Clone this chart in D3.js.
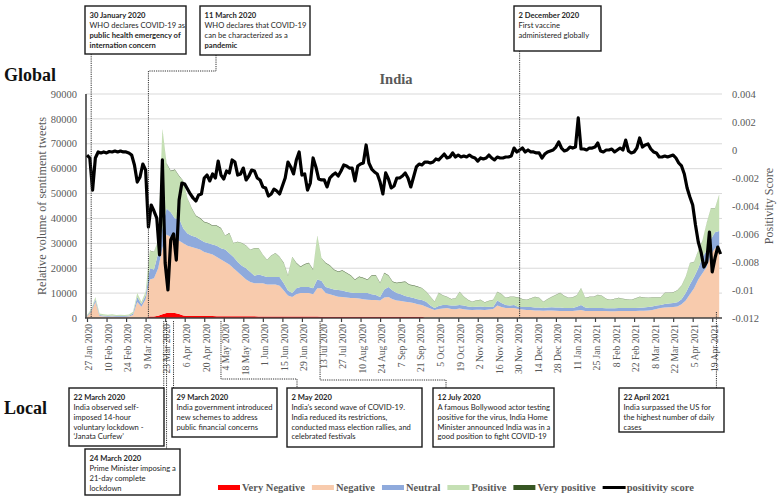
<!DOCTYPE html>
<html><head><meta charset="utf-8">
<script src="https://cdn.jsdelivr.net/npm/d3@7"></script>
<style>body{margin:0;background:#fff}svg{display:block}</style>
</head><body>
<svg id="chart" width="778" height="499"></svg>
<script>
// ---------------- DATA ----------------
// Stacked sentiment volumes (thousands of tweets), one value every 3 days from 27 Jan 2020
const areaStartDate = "2020-01-27";
const areaStepDays = 3;
const veryNegative = [
0,0,0,0,0,0,0,0,0,0,
0,0,0,0,0,0.6,0.6,0.9,1.5,2.0,
2.1,2.0,1.6,1.0,0.8,0.8,0.8,0.8,0.8,0.8,
0.8,0.7,0.7,0.7,0.7,0.7,0.7,0.7,0.7,0.7,
0.7,0.6,0.6,0.6,0.6,0.6,0.6,0.6,0.6,0.6,
0.6,0.6,0.6,0.6,0.6,0.6,0.5,0.5,0.5,0.5,
0.5,0.5,0.5,0.5,0.5,0.5,0.5,0.5,0.5,0.5,
0.5,0.5,0.5,0.5,0.5,0.5,0.5,0.5,0.5,0.5,
0.5,0,0,0,0,0,0,0,0,0,
0,0,0,0,0,0,0,0,0,0,
0,0,0,0,0,0,0,0,0,0,
0,0,0,0,0,0,0,0,0,0,
0,0,0,0,0,0,0,0,0,0,
0,0,0,0,0,0,0,0,0,0,
0,0,0,0,0,0,0,0,0,0,
0,0];
const negative = [
0.5,2.5,6.4,0.8,0.6,0.5,0.6,0.5,0.5,0.5,
0.6,1.2,6.4,4.5,7.5,14.9,15.4,19.1,26.5,31.5,
30.4,31,29.4,29,28.2,27.7,27.2,26.7,25.7,25.2,
24.7,23.8,22.8,21.8,20.8,19.3,17.8,16.3,14.8,13.8,
13.3,13.4,13.4,12.9,12.9,12.9,12.4,10.4,8.4,7.8,
8.9,9.4,9.4,9.4,8.9,11.4,11.5,9.5,9.0,8.5,
8.0,7.9,7.7,7.5,7.5,7.3,7.0,6.8,6.7,6.7,
6.5,7.7,7.9,7.0,6.5,6.3,6.0,5.8,5.5,5.0,
4.7,4.5,3.8,3.2,3.6,3.8,4.0,3.6,3.5,3.8,
3.5,3.3,3.2,3.3,3.3,3.2,3.4,3.6,5.0,4.4,
4.0,4.0,4.0,3.6,3.4,3.2,3.2,3.0,3.0,2.9,
3.0,3.0,2.9,2.8,2.8,2.8,2.8,3.0,3.2,2.8,
2.8,2.8,2.8,2.8,2.8,2.7,2.7,2.8,2.8,2.8,
2.8,2.8,2.9,2.9,3.0,3.2,3.6,4.0,4.2,4.3,
4.4,4.6,5.5,7.0,9.5,12.0,15.5,18.0,20.5,25.5,
28.0,29.0];
const neutral = [
0.3,0.5,1.0,0.4,0.3,0.3,0.3,0.3,0.3,0.3,
0.3,0.6,2.0,1.0,1.5,4.5,3.5,6.0,8.0,10.5,
10.0,7.0,9.0,6.0,5.0,4.5,4.5,4.0,4.0,4.0,
4.0,4.5,4.5,5.0,4.5,4.5,4.0,4.0,4.5,4.0,
3.0,3.5,3.0,3.0,3.0,3.0,3.5,3.0,2.0,1.6,
2.5,2.5,2.5,2.5,2.5,3.5,3.0,2.5,2.5,2.5,
2.8,2.6,2.3,2.2,2.0,2.2,2.5,2.7,2.3,2.0,
1.4,3.3,4.1,3.5,3.0,2.7,2.3,2.1,2.0,2.0,
2.0,2.0,1.2,0.8,1.2,1.4,1.2,1.4,1.5,1.4,
1.5,1.3,1.2,1.2,1.3,1.2,1.1,0.8,2.0,1.6,
1.2,1.0,1.2,0.8,1.0,1.2,1.2,1.2,1.2,1.1,
1.2,1.3,1.3,1.4,1.2,1.2,1.2,1.5,2.0,1.4,
1.2,1.2,1.2,1.2,1.1,1.2,1.2,1.2,1.2,1.2,
1.2,1.2,1.2,1.3,1.4,1.4,1.4,1.2,1.4,1.5,
1.6,1.7,2.0,3.0,4.0,4.5,4.5,6.5,6.5,6.0,
6.5,6.0];
const positive = [
0.4,0.5,1.0,0.6,0.6,0.5,0.6,0.4,0.5,0.4,
0.5,0.7,1.6,1.0,1.5,7.0,7.0,5.0,40.0,18.0,
16.5,19.5,17.0,19.0,14.0,11.0,8.5,8.5,8.0,8.0,
7.5,8.0,8.0,5.5,8.0,5.5,8.0,9.0,9.0,8.8,
11.0,10.5,8.3,6.8,8.5,9.5,8.0,8.0,6.0,14.5,
10.0,8.0,9.0,9.5,7.3,17.5,9.0,9.5,9.0,7.8,
7.2,8.0,7.5,6.8,5.3,6.5,6.0,5.3,7.5,7.8,
5.6,6.5,4.5,3.5,4.0,4.8,5.7,4.9,5.0,5.0,
4.8,4.0,3.5,2.5,5.2,3.8,3.2,2.5,2.8,5.2,
3.5,2.6,2.0,2.5,2.6,1.8,2.3,2.8,3.4,3.5,
2.8,3.4,3.2,3.8,3.1,2.8,3.4,4.2,3.8,2.4,
3.3,4.1,5.0,5.8,4.8,4.0,4.2,4.5,6.8,3.8,
4.4,4.4,5.2,4.8,3.7,3.3,3.7,4.0,3.6,3.4,
3.2,3.8,4.3,4.0,3.6,3.6,3.2,3.0,4.4,4.2,
4.2,4.7,5.5,6.5,8.5,6.0,7.0,6.5,11.0,12.5,
9.5,14.5];
const veryPositive = [
0.02,0.02,0.02,0.02,0.02,0.02,0.02,0.02,0.02,0.02,
0.02,0.02,0.02,0.02,0.02,0.15,0.15,0.15,0.15,0.15,
0.15,0.15,0.15,0.15,0.15,0.15,0.15,0.15,0.15,0.15,
0.15,0.15,0.15,0.15,0.15,0.15,0.15,0.15,0.15,0.15,
0.15,0.15,0.15,0.15,0.15,0.15,0.15,0.15,0.15,0.15,
0.15,0.15,0.15,0.15,0.15,0.15,0.15,0.15,0.15,0.15,
0.15,0.15,0.15,0.15,0.15,0.15,0.15,0.15,0.15,0.15,
0.15,0.15,0.15,0.15,0.15,0.15,0.15,0.15,0.15,0.15,
0.1,0.1,0.1,0.1,0.1,0.1,0.1,0.1,0.1,0.1,
0.1,0.1,0.1,0.1,0.1,0.1,0.1,0.1,0.1,0.1,
0.1,0.1,0.1,0.1,0.1,0.1,0.1,0.1,0.1,0.1,
0.1,0.1,0.1,0.1,0.1,0.1,0.1,0.1,0.1,0.1,
0.1,0.1,0.1,0.1,0.1,0.1,0.1,0.1,0.1,0.1,
0.1,0.1,0.1,0.1,0.1,0.1,0.1,0.1,0.1,0.1,
0.1,0.1,0.1,0.1,0.1,0.1,0.1,0.1,0.1,0.1,
0.1,0.1];
const volumeUnit = 1000;

// Positivity score (in units of 0.001), one value every 2 days from 27 Jan 2020
const scoreStartDate = "2020-01-27";
const scoreStepDays = 2;
const positivityScoreMilli = [
-0.36,-0.57,-2.86,-0.57,-0.14,-0.21,-0.14,-0.21,-0.11,-0.14,
-0.07,-0.14,-0.07,-0.14,-0.14,-0.21,-0.36,-1.07,-2.29,-1.93,
-1.0,-1.43,-5.5,-3.93,-4.36,-4.86,-7.5,-0.71,-8.07,-10.0,
-6.43,-6.0,-7.86,-3.57,-2.36,-2.43,-2.79,-3.14,-3.43,-3.64,
-3.21,-3.14,-2.0,-1.79,-2.21,-1.71,-2.0,-0.79,-1.79,-2.07,
-1.5,-1.64,-0.71,-0.86,-1.79,-1.71,-1.29,-2.14,-1.86,-1.43,
-1.5,-2.0,-2.14,-2.64,-2.71,-3.29,-3.14,-2.79,-2.93,-3.14,
-2.57,-2.0,-0.86,-1.21,-1.71,-0.71,-0.14,-1.79,-1.71,-2.86,
-2.36,-0.57,-1.21,-2.07,-2.14,-2.14,-2.64,-2.0,-1.79,-1.64,
-1.86,-1.5,-1.07,-1.14,-1.29,-1.29,-2.21,-1.14,-1.0,-0.93,
0.36,-0.93,-1.36,-1.57,-1.71,-2.29,-3.14,-1.64,-2.07,-2.71,
-2.57,-2.0,-2.0,-1.86,-1.64,-2.0,-2.64,-1.93,-1.21,-1.0,
-1.07,-0.86,-0.86,-0.93,-0.86,-0.64,-0.71,-0.5,-0.29,-0.57,
-0.5,-0.21,-0.5,-0.36,-0.5,-0.43,-0.5,-0.36,-0.5,-0.57,
-0.79,-0.57,-0.64,-0.57,-0.36,-0.57,-0.71,-0.5,-0.57,-0.57,
-0.5,-0.5,-0.43,0.14,-0.14,0,0.14,-0.14,0,-0.14,
-0.14,-0.21,-0.21,-0.57,-0.29,-0.14,-0.07,0,0.21,0.57,
0.14,-0.07,0,0.21,0.14,0.21,2.29,0.07,0.07,0,
0.14,0.14,0.21,0.5,-0.07,-0.14,0,0,0.07,-0.14,
0,0.14,0,0.71,-0.07,-0.21,-0.14,0.14,0.86,0.21,
0.36,0.43,0.07,-0.14,-0.21,-0.5,-0.5,-0.43,-0.5,-0.43,
-0.36,-0.57,-0.93,-1.14,-1.71,-2.71,-3.36,-3.93,-5.36,-6.57,
-7.29,-8.36,-8.0,-5.86,-8.71,-7.71,-6.93,-7.43];
const scoreUnit = 0.001;

const xDomainDates = ["2020-01-27", "2021-04-26"];
const xTickLabels = ["27 Jan 2020","10 Feb 2020","24 Feb 2020","9 Mar 2020","23 Mar 2020","6 Apr 2020",
"20 Apr 2020","4 May 2020","18 May 2020","1 Jun 2020","15 Jun 2020","29 Jun 2020","13 Jul 2020",
"27 Jul 2020","10 Aug 2020","24 Aug 2020","7 Sep 2020","21 Sep 2020","5 Oct 2020","19 Oct 2020",
"2 Nov 2020","16 Nov 2020","30 Nov 2020","14 Dec 2020","28 Dec 2020","11 Jan 2021","25 Jan 2021",
"8 Feb 2021","22 Feb 2021","8 Mar 2021","22 Mar 2021","5 Apr 2021","19 Apr 2021"];
const leftTicks = [0,10000,20000,30000,40000,50000,60000,70000,80000,90000];
const rightTicks = [0.004,0.002,0,-0.002,-0.004,-0.006,-0.008,-0.01,-0.012];
const rightTickLabels = ["0.004","0.002","0","-0.002","-0.004","-0.006","-0.008","-0.01","-0.012"];

const seriesKeys = ["veryNegative","negative","neutral","positive","veryPositive"];
const seriesNames = ["Very Negative","Negative","Neutral","Positive","Very positive"];
const seriesColors = ["#ff0000","#f8cbad","#8faadc","#c5e0b4","#375623"];
const lineName = "positivity score";

const annotations = [
  {date:"2020-01-30", lines:[["30 January 2020",1],["WHO declares COVID-19 as",0],["public health emergency of",1],["internation concern",1]]},
  {date:"2020-03-11", lines:[["11 March 2020",1],["WHO declares that COVID-19",0],["can be characterized as a",0],["pandemic",1]]},
  {date:"2020-12-02", lines:[["2 December 2020",1],["First vaccine",0],["administered globally",0]]},
  {date:"2020-03-22", lines:[["22 March 2020",1],["India observed self-",0],["imposed 14-hour",0],["voluntary lockdown -",0],["\u2018Janata Curfew\u2019",0]]},
  {date:"2020-03-24", lines:[["24 March 2020",1],["Prime Minister imposing a",0],["21-day complete",0],["lockdown",0]]},
  {date:"2020-03-29", lines:[["29 March 2020",1],["India government introduced",0],["new schemes to address",0],["public financial concerns",0]]},
  {date:"2020-05-02", lines:[["2 May 2020",1],["India\u2019s second wave of COVID-19.",0],["India reduced its restrictions,",0],["conducted mass election rallies, and",0],["celebrated festivals",0]]},
  {date:"2020-07-12", lines:[["12 July 2020",1],["A famous Bollywood actor testing",0],["positive for the virus, India Home",0],["Minister announced India was in a",0],["good position to fight COVID-19",0]]},
  {date:"2021-04-22", lines:[["22 April 2021",1],["India surpassed the US for",0],["the highest number of daily",0],["cases",0]]}
];

// ---------------- LAYOUT ----------------
const svg = d3.select("#chart");
svg.append("rect").attr("width",778).attr("height",499).attr("fill","#fff");
const parse = d3.utcParse("%Y-%m-%d");
const parseTick = d3.utcParse("%e %b %Y");
const SERIF = "'Liberation Serif','Times New Roman',serif";
const SANS = "Lato,'Liberation Sans',sans-serif";
const axisGray = "#595959";

const plot = {left:87, right:722, top:94, bottom:318};
const x = d3.scaleUtc().domain(xDomainDates.map(parse)).range([plot.left, plot.right]);
const yL = d3.scaleLinear().domain([0, 90000]).range([plot.bottom, plot.top]);
const yR = d3.scaleLinear().domain([-0.012, 0.004]).range([plot.bottom, plot.top]);

// gridlines
svg.append("g").selectAll("line").data(leftTicks.filter(d=>d>0)).join("line")
  .attr("x1",plot.left-1).attr("x2",plot.right)
  .attr("y1",d=>yL(d)).attr("y2",d=>yL(d))
  .attr("stroke","#d9d9d9").attr("stroke-width",1);

// stacked areas
const aStart = parse(areaStartDate);
const table = veryNegative.map((v,i)=>({
  date: d3.utcDay.offset(aStart, i*areaStepDays),
  veryNegative: v*volumeUnit, negative: negative[i]*volumeUnit, neutral: neutral[i]*volumeUnit,
  positive: positive[i]*volumeUnit, veryPositive: veryPositive[i]*volumeUnit
}));
const stacked = d3.stack().keys(seriesKeys)(table);
const area = d3.area().x(d=>x(d.data.date)).y0(d=>yL(d[0])).y1(d=>yL(d[1]));
svg.append("g").selectAll("path").data(stacked).join("path")
  .attr("d",area).attr("fill",(d,i)=>seriesColors[i]);

// left axis
svg.append("line").attr("x1",plot.left-1).attr("x2",plot.left-1).attr("y1",plot.top).attr("y2",plot.bottom)
  .attr("stroke","#404040").attr("stroke-width",1.6);
svg.append("g").selectAll("text").data(leftTicks).join("text")
  .attr("x",77).attr("y",d=>yL(d)).attr("dy","0.35em").attr("text-anchor","end")
  .attr("font-family",SERIF).attr("font-size",10.5).attr("fill",axisGray).text(d=>d);

// right axis labels
svg.append("g").selectAll("text").data(rightTicks).join("text")
  .attr("x",732).attr("y",d=>yR(d)).attr("dy","0.35em")
  .attr("font-family",SERIF).attr("font-size",10.5).attr("fill",axisGray).text((d,i)=>rightTickLabels[i]);

// bottom axis
const xAxis = d3.axisBottom(x).tickValues(xTickLabels.map(parseTick))
  .tickFormat((d,i)=>xTickLabels[i]).tickSize(4).tickSizeOuter(0);
const gx = svg.append("g").attr("transform",`translate(0,${plot.bottom})`).call(xAxis);
gx.select(".domain").attr("stroke","#404040").attr("stroke-width",1.6)
  .attr("d",`M${plot.left-2},0H${plot.right}`);
gx.selectAll(".tick line").attr("stroke","#404040").attr("stroke-width",1.2);
gx.selectAll(".tick text").attr("transform","rotate(-90)").attr("text-anchor","end")
  .attr("x",-6).attr("y",0).attr("dy","0.5em")
  .attr("font-family",SERIF).attr("font-size",9.6).attr("fill",axisGray);

// positivity line
const sStart = parse(scoreStartDate);
const scoreData = positivityScoreMilli.map((v,i)=>({date:d3.utcDay.offset(sStart,i*scoreStepDays), v:v*scoreUnit}));
svg.append("path").datum(scoreData)
  .attr("d",d3.line().x(d=>x(d.date)).y(d=>yR(d.v)))
  .attr("fill","none").attr("stroke","#000").attr("stroke-width",3.2)
  .attr("stroke-linejoin","round");

// axis titles
svg.append("text").attr("transform","translate(46,206) rotate(-90)").attr("text-anchor","middle")
  .attr("font-family",SERIF).attr("font-size",12.2).attr("fill",axisGray)
  .text("Relative volume of sentiment tweets");
svg.append("text").attr("transform","translate(773,206) rotate(-90)").attr("text-anchor","middle")
  .attr("font-family",SERIF).attr("font-size",12).attr("fill",axisGray)
  .text("Positivity Score");
svg.append("text").attr("x",396).attr("y",84).attr("text-anchor","middle")
  .attr("font-family",SERIF).attr("font-weight","bold").attr("font-size",14.5).attr("fill",axisGray)
  .text("India");
svg.append("text").attr("x",4).attr("y",81).attr("font-family",SERIF).attr("font-weight","bold")
  .attr("font-size",18).attr("fill","#111").text("Global");
svg.append("text").attr("x",4).attr("y",414).attr("font-family",SERIF).attr("font-weight","bold")
  .attr("font-size",18).attr("fill","#111").text("Local");

// annotation connectors (dotted)
const ax = d => x(parse(annotations[d].date));
const conn = [
  `M${ax(0)},54V${plot.bottom}`,
  `M216,55V71H${ax(1)}V${plot.bottom}`,
  `M${ax(2)},51V${plot.bottom}`,
  `M${ax(3)},321V388`,
  `M${ax(4)},321V449`,
  `M${ax(5)},321V388`,
  `M${ax(6)},321V379H297V388`,
  `M${ax(7)},321V380H446V388`,
  `M${ax(8)},312V388`
];
svg.append("g").selectAll("path").data(conn).join("path").attr("d",d=>d)
  .attr("fill","none").attr("stroke","#333").attr("stroke-width",1).attr("stroke-dasharray","1.2,1");

// annotation boxes
const boxes = [
  {x:85,y:6,w:101,h:48},{x:200,y:6,w:110,h:49},{x:514,y:6,w:87,h:45},
  {x:69,y:388,w:95,h:58},{x:85,y:449,w:95,h:46},{x:172,y:388,w:105,h:49},
  {x:287,y:388,w:135,h:59},{x:433,y:388,w:121,h:59},{x:619,y:388,w:105,h:44}
];
boxes.forEach((b,i)=>{
  const g = svg.append("g");
  g.append("rect").attr("x",b.x).attr("y",b.y).attr("width",b.w).attr("height",b.h)
    .attr("fill","#fff").attr("stroke","#1a1a1a").attr("stroke-width",1.4);
  annotations[i].lines.forEach((ln,k)=>{
    g.append("text").attr("x",b.x+4.5).attr("y",b.y+12.4+k*9.7)
      .attr("font-family",SANS).attr("font-size",7.6)
      .attr("font-weight",ln[1]?"bold":"normal").attr("fill","#262626").text(ln[0]);
  });
});

// legend
const legendItems = seriesNames.map((n,i)=>({name:n,color:seriesColors[i],type:"rect"}))
  .concat([{name:lineName,color:"#000",type:"line"}]);
let lx = 218;
const lg = svg.append("g");
legendItems.forEach(it=>{
  if(it.type==="rect"){
    lg.append("rect").attr("x",lx).attr("y",485).attr("width",22).attr("height",5).attr("fill",it.color);
  } else {
    lg.append("line").attr("x1",lx).attr("x2",lx+23).attr("y1",487.5).attr("y2",487.5)
      .attr("stroke","#000").attr("stroke-width",3);
  }
  const t = lg.append("text").attr("x",lx+24).attr("y",491).attr("font-family",SERIF)
    .attr("font-weight","bold").attr("font-size",10.5).attr("fill",axisGray).text(it.name);
  lx += 24 + t.node().getComputedTextLength() + 7;
});
</script>
</body></html>
